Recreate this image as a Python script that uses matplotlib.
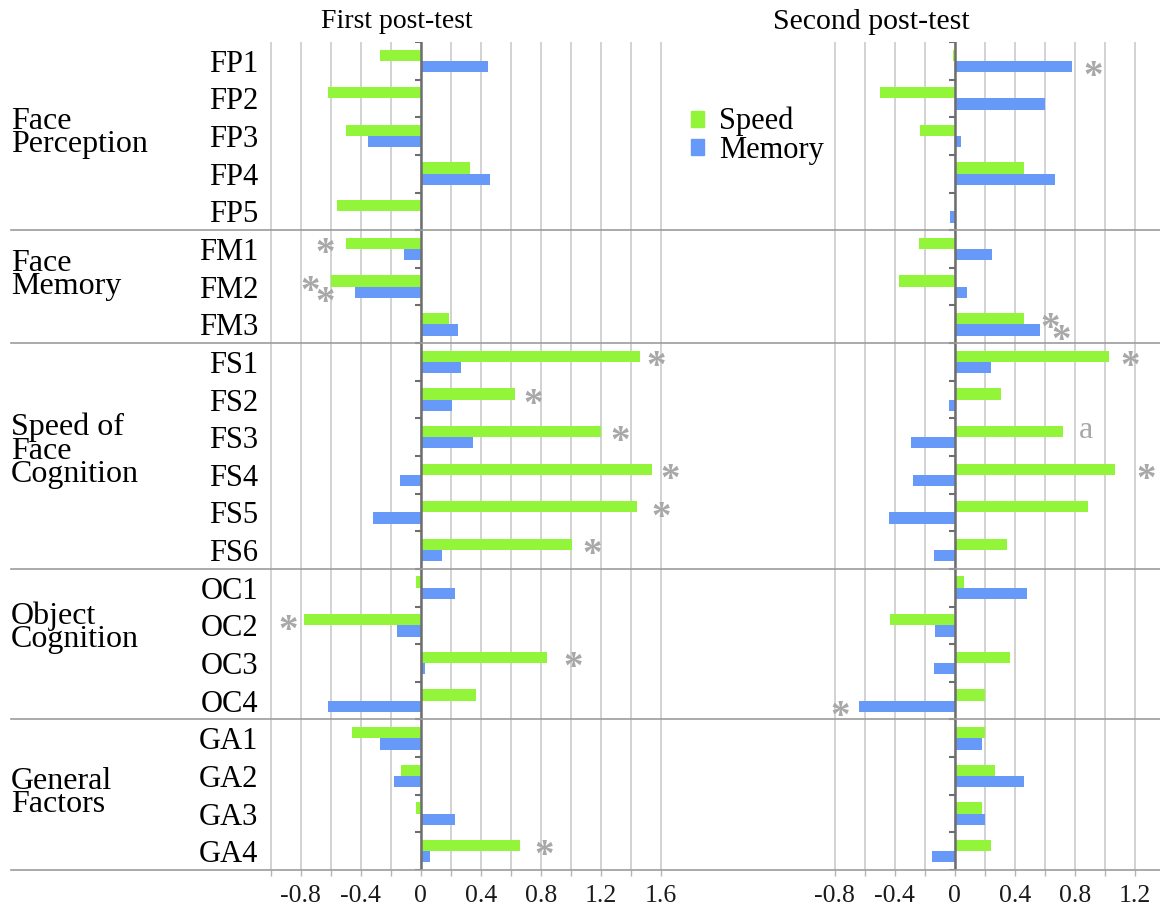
import matplotlib
matplotlib.use('Agg')
import matplotlib.pyplot as plt
import matplotlib.transforms as mtransforms
from matplotlib.patches import Patch
from matplotlib.lines import Line2D
import numpy as np

plt.rcParams['font.family'] = ['Liberation Serif', 'DejaVu Serif']
plt.rcParams['axes.unicode_minus'] = False

# --- DATA ---
rows = ['FP1', 'FP2', 'FP3', 'FP4', 'FP5',
        'FM1', 'FM2', 'FM3',
        'FS1', 'FS2', 'FS3', 'FS4', 'FS5', 'FS6',
        'OC1', 'OC2', 'OC3', 'OC4',
        'GA1', 'GA2', 'GA3', 'GA4']

groups = ['Face\nPerception', 'Face\nMemory', 'Speed of\nFace\nCognition',
          'Object\nCognition', 'General\nFactors']
group_sizes = [5, 3, 6, 4, 4]
group_label_rows = [1.92, 5.69, 10.37, 15.07, 19.45]

panel_titles = ['First post-test', 'Second post-test']
series_names = ['Speed', 'Memory']

first_speed = [-0.27, -0.62, -0.50, 0.33, -0.56,
               -0.50, -0.60, 0.19,
               1.46, 0.63, 1.20, 1.54, 1.44, 1.01,
               -0.03, -0.78, 0.84, 0.37,
               -0.46, -0.13, -0.03, 0.66]
first_memory = [0.45, 0.0, -0.35, 0.46, 0.0,
                -0.11, -0.44, 0.25,
                0.27, 0.21, 0.35, -0.14, -0.32, 0.14,
                0.23, -0.16, 0.03, -0.62,
                -0.27, -0.18, 0.23, 0.06]

second_speed = [-0.01, -0.50, -0.23, 0.46, 0.0,
                -0.24, -0.37, 0.46,
                1.03, 0.31, 0.72, 1.07, 0.89, 0.35,
                0.06, -0.43, 0.37, 0.20,
                0.20, 0.27, 0.18, 0.24]
second_memory = [0.78, 0.60, 0.04, 0.67, -0.03,
                 0.25, 0.08, 0.57,
                 0.24, -0.04, -0.29, -0.28, -0.44, -0.14,
                 0.48, -0.13, -0.14, -0.64,
                 0.18, 0.46, 0.20, -0.15]

# significance marks: (row, series, x position, mark)
first_marks = [(5, 0, -0.64, '*'), (6, 0, -0.74, '*'), (6, 1, -0.64, '*'),
               (8, 0, 1.57, '*'), (9, 0, 0.75, '*'), (10, 0, 1.33, '*'),
               (11, 0, 1.66, '*'), (12, 0, 1.60, '*'), (13, 0, 1.14, '*'),
               (15, 0, -0.885, '*'), (16, 0, 1.015, '*'), (21, 0, 0.82, '*')]
second_marks = [(0, 1, 0.92, '*'), (7, 0, 0.635, '*'), (7, 1, 0.707, '*'),
                (8, 0, 1.17, '*'), (10, 0, 0.875, 'a'), (11, 0, 1.275, '*'),
                (17, 1, -0.765, '*')]

GREEN = '#93F53A'
BLUE = '#6699F8'
GRID = '#C6C6C6'
AXIS = '#6E6E6E'
MARK = '#A8A8A8'

# ---------------------------------------------------------

W, H = 1160, 907
SCALE = 150.0  # pixels per unit on both panels


def px_rect(x0, x1, y0, y1):
    return [x0 / W, 1 - y1 / H, (x1 - x0) / W, (y1 - y0) / H]


def draw_panel(ax, speed, memory, marks, lo, hi):
    y = np.arange(len(rows))
    ax.barh(y - 0.15, speed, height=0.3, color=GREEN, zorder=3)
    ax.barh(y + 0.15, memory, height=0.3, color=BLUE, zorder=3)

    ax.set_ylim(len(rows) - 0.5, -0.5)
    left = lo - 0.005
    ax.set_xlim(left, left + (ax.get_position().width * W) / SCALE)

    ticks = np.round(np.arange(lo, hi + 0.01, 0.2), 2)
    ax.set_xticks(ticks)
    labels = []
    for t in ticks:
        if abs(t / 0.4 - round(t / 0.4)) < 1e-6:
            labels.append('0' if abs(t) < 1e-9 else f'{t:.1f}')
        else:
            labels.append('')
    ax.set_xticklabels(labels)
    ax.xaxis.grid(True, color=GRID, lw=1.1, zorder=0)
    ax.set_axisbelow(True)
    ax.tick_params(axis='x', length=4, width=1, color='#B5B5B5',
                   labelsize=18.5, pad=7, labelcolor='#1a1a1a')
    for s in ax.spines.values():
        s.set_visible(False)

    # zero axis with category ticks
    ax.axvline(0, color=AXIS, lw=1.8, zorder=4)
    ax.hlines(np.arange(-0.5, len(rows)), -0.04, 0, color=AXIS, lw=1.5, zorder=4)

    for row, ser, x, m in marks:
        yy = row - 0.15 if ser == 0 else row + 0.15
        if m == '*':
            ax.annotate(m, (x, yy), xytext=(0, -15), textcoords='offset points',
                        ha='center', va='baseline', fontsize=28, color=MARK,
                        fontweight='bold', annotation_clip=False, zorder=5)
        else:
            ax.annotate(m, (x, yy), xytext=(0, -5), textcoords='offset points',
                        ha='center', va='baseline', fontsize=23, color=MARK,
                        annotation_clip=False, zorder=5)


fig = plt.figure(figsize=(W / 100, H / 100), dpi=100)

ax1 = fig.add_axes(px_rect(270, 675, 42, 870))
ax2 = fig.add_axes(px_rect(834, 1160, 42, 870))

draw_panel(ax1, first_speed, first_memory, first_marks, -1.0, 1.6)
draw_panel(ax2, second_speed, second_memory, second_marks, -0.8, 1.2)

ax1.set_yticks(np.arange(len(rows)))
ax1.set_yticklabels(rows, fontsize=22)
ax1.tick_params(axis='y', length=0, pad=8.5)
ax2.set_yticks([])

# group separators and group names
trans = mtransforms.blended_transform_factory(fig.transFigure, ax1.transData)
for b in np.cumsum(group_sizes) - 0.5:
    fig.add_artist(Line2D([11 / W, 1], [b, b], transform=trans,
                          color='#9C9C9C', lw=1.2, zorder=2))
for name, r in zip(groups, group_label_rows):
    fig.text(11 / W, r, name, transform=trans, ha='left', va='center',
             fontsize=23, linespacing=0.75)

fig.text(397 / W, 1 - 22 / H, panel_titles[0], ha='center', va='center', fontsize=20)
fig.text(871 / W, 1 - 22 / H, panel_titles[1], ha='center', va='center', fontsize=21.5)

fig.legend(handles=[Patch(color=GREEN, label=series_names[0]),
                    Patch(color=BLUE, label=series_names[1])],
           loc='upper left', bbox_to_anchor=(691 / W, 1 - 107 / H),
           frameon=False, fontsize=22, handlelength=0.42, handleheight=0.42,
           handletextpad=0.5, labelspacing=-0.02, borderpad=0, borderaxespad=0)

fig.savefig('out.png', dpi=100)
